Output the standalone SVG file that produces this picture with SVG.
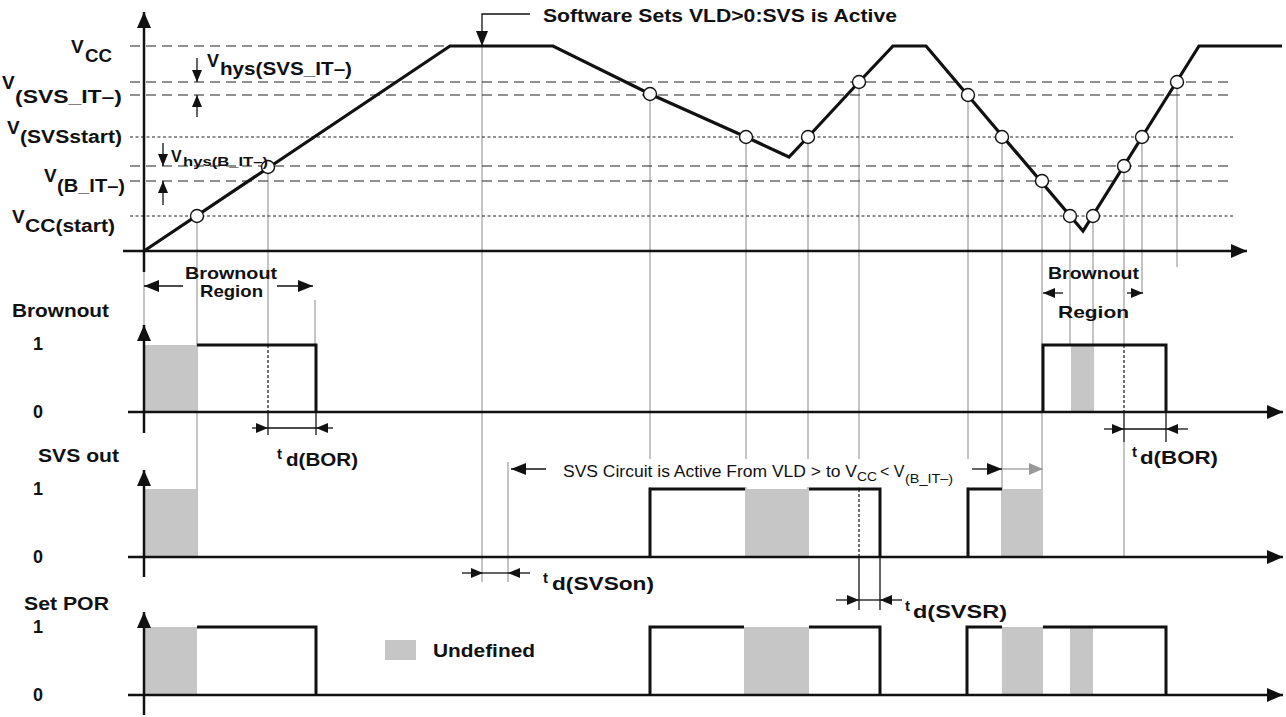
<svg xmlns="http://www.w3.org/2000/svg" width="1286" height="717" viewBox="0 0 1286 717">
<style>
text{font-family:"Liberation Sans",Arial,sans-serif;fill:#111}
.b{font-weight:bold}
.ax{stroke:#111;stroke-width:2.5;fill:none}
.wave{stroke:#111;stroke-width:3.2;fill:none;stroke-linejoin:miter}
.sig{stroke:#111;stroke-width:3;fill:none}
.gl{stroke:#c4c4c4;stroke-width:2}
.ld{stroke:#222;stroke-width:1.1;stroke-dasharray:10 6;fill:none}
.sd{stroke:#222;stroke-width:1;stroke-dasharray:3 2.5;fill:none}
.dim{stroke:#111;stroke-width:1.3;fill:none}
.vd{stroke:#111;stroke-width:1.2;stroke-dasharray:3 2;fill:none}
.und{fill:#c6c6c6}
.c{fill:#fff;stroke:#111;stroke-width:1.4}
</style>
<defs>
<marker id="big" markerUnits="userSpaceOnUse" markerWidth="16" markerHeight="14" refX="16" refY="7" orient="auto"><path d="M0,0L16,7L0,14z" fill="#111"/></marker>
<marker id="md" markerUnits="userSpaceOnUse" markerWidth="15" markerHeight="12" refX="15" refY="6" orient="auto"><path d="M0,0L15,6L0,12z" fill="#111"/></marker>
<marker id="sm" markerUnits="userSpaceOnUse" markerWidth="12" markerHeight="10" refX="12" refY="5" orient="auto"><path d="M0,0L12,5L0,10z" fill="#111"/></marker>
<marker id="smg" markerUnits="userSpaceOnUse" markerWidth="14" markerHeight="12" refX="14" refY="6" orient="auto"><path d="M0,0L14,6L0,12z" fill="#999"/></marker>
</defs>

<g id="gray-lines" class="gl">
<line x1="144" y1="252" x2="144" y2="325"/>
<line x1="197" y1="216" x2="197" y2="557"/>
<line x1="268" y1="166" x2="268" y2="345"/>
<line x1="315" y1="300" x2="315" y2="345"/>
<line x1="482" y1="46" x2="482" y2="582"/>
<line x1="508" y1="462" x2="508" y2="582"/>
<line x1="650" y1="94" x2="650" y2="489"/>
<line x1="746" y1="137" x2="746" y2="557"/>
<line x1="808" y1="137" x2="808" y2="557"/>
<line x1="859" y1="82" x2="859" y2="489"/>
<line x1="968" y1="95" x2="968" y2="489"/>
<line x1="1002" y1="137" x2="1002" y2="557"/>
<line x1="1042" y1="181" x2="1042" y2="557"/>
<line x1="1070" y1="216" x2="1070" y2="345"/>
<line x1="1093" y1="216" x2="1093" y2="345"/>
<line x1="1124" y1="166" x2="1124" y2="345"/>
<line x1="1124" y1="442" x2="1124" y2="557"/>
<line x1="1142" y1="137" x2="1142" y2="293"/>
<line x1="1177" y1="82" x2="1177" y2="267"/>
</g>

<g id="undefined-fills" class="und">
<rect x="144" y="345" width="53" height="67"/>
<rect x="1071" y="345" width="23" height="67"/>
<rect x="144" y="489" width="53" height="68"/>
<rect x="745" y="489" width="64" height="68"/>
<rect x="1002" y="489" width="41" height="68"/>
<rect x="144" y="627" width="53" height="68"/>
<rect x="744" y="627" width="65" height="68"/>
<rect x="1002" y="627" width="41" height="68"/>
<rect x="1070" y="627" width="23" height="68"/>
</g>

<g id="thresholds">
<line class="ld" x1="130" y1="46" x2="448" y2="46"/>
<line class="ld" x1="130" y1="82" x2="1228" y2="82"/>
<line class="ld" x1="130" y1="95" x2="1228" y2="95"/>
<line class="sd" x1="130" y1="137" x2="1233" y2="137"/>
<line class="ld" x1="130" y1="166" x2="1230" y2="166"/>
<line class="ld" x1="130" y1="181" x2="1230" y2="181"/>
<line class="sd" x1="130" y1="216" x2="1235" y2="216"/>
</g>

<g id="axes" class="ax">
<line x1="144" y1="272" x2="144" y2="12" marker-end="url(#big)"/>
<line x1="123" y1="251" x2="1247" y2="251" marker-end="url(#big)"/>
<line x1="144" y1="433" x2="144" y2="325" marker-end="url(#big)"/>
<line x1="128" y1="412" x2="1283" y2="412" marker-end="url(#big)"/>
<line x1="144" y1="577" x2="144" y2="470" marker-end="url(#big)"/>
<line x1="128" y1="557" x2="1283" y2="557" marker-end="url(#big)"/>
<line x1="144" y1="715" x2="144" y2="612" marker-end="url(#big)"/>
<line x1="128" y1="695" x2="1283" y2="695" marker-end="url(#big)"/>
</g>

<g id="vcc-waveform">
<polyline class="wave" points="144,251 450,46 553,46 650,94 746,137 789,157 808,137 859,82 893,46 926,46 1083,231 1199,46 1282,46"/>
<g class="c">
<circle cx="197" cy="216" r="6.5"/>
<circle cx="268" cy="167" r="6.5"/>
<circle cx="650" cy="94" r="6.5"/>
<circle cx="746" cy="137" r="6.5"/>
<circle cx="808" cy="137" r="6.5"/>
<circle cx="859" cy="82" r="6.5"/>
<circle cx="968" cy="95" r="6.5"/>
<circle cx="1002" cy="137" r="6.5"/>
<circle cx="1042" cy="181" r="6.5"/>
<circle cx="1070" cy="216" r="6.5"/>
<circle cx="1093" cy="216" r="6.5"/>
<circle cx="1124" cy="166" r="6.5"/>
<circle cx="1142" cy="137" r="6.5"/>
<circle cx="1177" cy="82" r="6.5"/>
</g>
</g>

<g id="hysteresis">
<line class="dim" x1="197" y1="58" x2="197" y2="82" marker-end="url(#sm)"/>
<line class="dim" x1="197" y1="117" x2="197" y2="95" marker-end="url(#sm)"/>
<line class="dim" x1="163" y1="143" x2="163" y2="166" marker-end="url(#sm)"/>
<line class="dim" x1="163" y1="205" x2="163" y2="181" marker-end="url(#sm)"/>
</g>

<g id="software-arrow">
<polyline class="dim" points="530,14 482,14 482,46" marker-end="url(#md)"/>
<text class="b" x="543" y="22" font-size="18" textLength="354" lengthAdjust="spacingAndGlyphs">Software Sets VLD&gt;0:SVS is Active</text>
</g>

<g id="level-labels" class="b">
<text x="71" y="53" font-size="19">V</text>
<text x="85" y="62" font-size="18" textLength="27" lengthAdjust="spacingAndGlyphs">CC</text>
<text x="2" y="89" font-size="19">V</text>
<text x="15" y="103" font-size="18" textLength="107" lengthAdjust="spacingAndGlyphs">(SVS_IT–)</text>
<text x="7" y="134" font-size="19">V</text>
<text x="20" y="143" font-size="18" textLength="102" lengthAdjust="spacingAndGlyphs">(SVSstart)</text>
<text x="44" y="182" font-size="19">V</text>
<text x="57" y="192" font-size="18" textLength="68" lengthAdjust="spacingAndGlyphs">(B_IT–)</text>
<text x="12" y="223" font-size="19">V</text>
<text x="25" y="232" font-size="18" textLength="90" lengthAdjust="spacingAndGlyphs">CC(start)</text>
<text x="207" y="67" font-size="18">V</text>
<text x="220" y="75" font-size="18" textLength="132" lengthAdjust="spacingAndGlyphs">hys(SVS_IT–)</text>
<text x="171" y="162" font-size="16">V</text>
<text x="183" y="166" font-size="12" textLength="85" lengthAdjust="spacingAndGlyphs">hys(B_IT–)</text>
</g>

<g id="row-labels" class="b">
<text x="12" y="317" font-size="18" textLength="97" lengthAdjust="spacingAndGlyphs">Brownout</text>
<text x="38" y="462" font-size="18" textLength="81" lengthAdjust="spacingAndGlyphs">SVS out</text>
<text x="24" y="610" font-size="18" textLength="85" lengthAdjust="spacingAndGlyphs">Set POR</text>
<g font-size="18" text-anchor="middle">
<text x="38" y="350">1</text><text x="38" y="418">0</text>
<text x="38" y="495">1</text><text x="38" y="563">0</text>
<text x="38" y="633">1</text><text x="38" y="701">0</text>
</g>
</g>

<g id="brownout-signal">
<polyline class="sig" points="197,345 316,345 316,412"/>
<polyline class="sig" points="1043,412 1043,345 1166,345 1166,412"/>
<line class="vd" x1="268" y1="345" x2="268" y2="412"/>
<line class="vd" x1="1124" y1="345" x2="1124" y2="412"/>
</g>

<g id="svsout-signal">
<polyline class="sig" points="650,557 650,489 745,489"/>
<polyline class="sig" points="809,489 880,489 880,557"/>
<polyline class="sig" points="968,557 968,489 1002,489"/>
<line class="vd" x1="859" y1="489" x2="859" y2="557"/>
</g>

<g id="setpor-signal">
<polyline class="sig" points="197,627 316,627 316,695"/>
<polyline class="sig" points="650,695 650,627 744,627"/>
<polyline class="sig" points="809,627 880,627 880,695"/>
<polyline class="sig" points="967,695 967,627 1002,627"/>
<polyline class="sig" points="1043,627 1166,627 1166,695"/>
</g>

<g id="brownout-region-left">
<line class="dim" x1="183" y1="286" x2="144" y2="286" marker-end="url(#md)"/>
<line class="dim" x1="277" y1="286" x2="313" y2="286" marker-end="url(#md)"/>
<text class="b" x="185" y="279" font-size="17" textLength="92" lengthAdjust="spacingAndGlyphs">Brownout</text>
<text class="b" x="200" y="297" font-size="17" textLength="63" lengthAdjust="spacingAndGlyphs">Region</text>
</g>

<g id="brownout-region-right">
<line class="dim" x1="1063" y1="293" x2="1043" y2="293" marker-end="url(#sm)"/>
<line class="dim" x1="1127" y1="293" x2="1143" y2="293" marker-end="url(#sm)"/>
<text class="b" x="1048" y="279" font-size="17" textLength="91" lengthAdjust="spacingAndGlyphs">Brownout</text>
<text class="b" x="1058" y="318" font-size="17" textLength="71" lengthAdjust="spacingAndGlyphs">Region</text>
</g>

<g id="td-bor-left">
<line class="dim" x1="268" y1="412" x2="268" y2="435"/>
<line class="dim" x1="316" y1="412" x2="316" y2="435"/>
<line class="dim" x1="252" y1="428" x2="268" y2="428" marker-end="url(#sm)"/>
<line class="dim" x1="268" y1="428" x2="316" y2="428"/>
<line class="dim" x1="333" y1="428" x2="316" y2="428" marker-end="url(#sm)"/>
<text class="b" x="277" y="459" font-size="15">t</text>
<text class="b" x="286" y="466" font-size="18" textLength="72" lengthAdjust="spacingAndGlyphs">d(BOR)</text>
</g>

<g id="td-bor-right">
<line class="dim" x1="1124" y1="412" x2="1124" y2="442"/>
<line class="dim" x1="1166" y1="412" x2="1166" y2="442"/>
<line class="dim" x1="1104" y1="429" x2="1124" y2="429" marker-end="url(#sm)"/>
<line class="dim" x1="1124" y1="429" x2="1166" y2="429"/>
<line class="dim" x1="1188" y1="429" x2="1166" y2="429" marker-end="url(#sm)"/>
<text class="b" x="1132" y="457" font-size="15">t</text>
<text class="b" x="1140" y="464" font-size="18" textLength="78" lengthAdjust="spacingAndGlyphs">d(BOR)</text>
</g>

<g id="svs-active-note">
<rect x="555" y="459" width="440" height="28" fill="#fff"/>
<line class="dim" x1="546" y1="469" x2="511" y2="469" marker-end="url(#md)"/>
<text x="563" y="477" font-size="16" textLength="294" lengthAdjust="spacingAndGlyphs">SVS Circuit is Active From VLD &gt; to V</text>
<text x="857" y="481" font-size="13" textLength="20" lengthAdjust="spacingAndGlyphs">CC</text>
<text x="880" y="477" font-size="16">&lt; V</text>
<text x="905" y="483" font-size="13" textLength="48" lengthAdjust="spacingAndGlyphs">(B_IT–)</text>
<line class="dim" x1="972" y1="469" x2="1002" y2="469" marker-end="url(#md)"/>
<line x1="1002" y1="469" x2="1043" y2="469" stroke="#aaa" stroke-width="1.3" marker-end="url(#smg)"/>
</g>

<g id="td-svson">
<line class="dim" x1="462" y1="573" x2="483" y2="573" marker-end="url(#sm)"/>
<line class="dim" x1="483" y1="573" x2="508" y2="573"/>
<line class="dim" x1="530" y1="573" x2="508" y2="573" marker-end="url(#sm)"/>
<text class="b" x="543" y="583" font-size="15">t</text>
<text class="b" x="552" y="590" font-size="18" textLength="102" lengthAdjust="spacingAndGlyphs">d(SVSon)</text>
</g>

<g id="td-svsr">
<line class="dim" x1="859" y1="557" x2="859" y2="610"/>
<line class="dim" x1="880" y1="557" x2="880" y2="610"/>
<line class="dim" x1="836" y1="600" x2="859" y2="600" marker-end="url(#sm)"/>
<line class="dim" x1="859" y1="600" x2="880" y2="600"/>
<line class="dim" x1="902" y1="600" x2="880" y2="600" marker-end="url(#sm)"/>
<text class="b" x="905" y="611" font-size="15">t</text>
<text class="b" x="913" y="618" font-size="18" textLength="94" lengthAdjust="spacingAndGlyphs">d(SVSR)</text>
</g>

<g id="legend">
<rect class="und" x="385" y="640" width="31" height="20"/>
<text class="b" x="433" y="657" font-size="19" textLength="102" lengthAdjust="spacingAndGlyphs">Undefined</text>
</g>
</svg>
